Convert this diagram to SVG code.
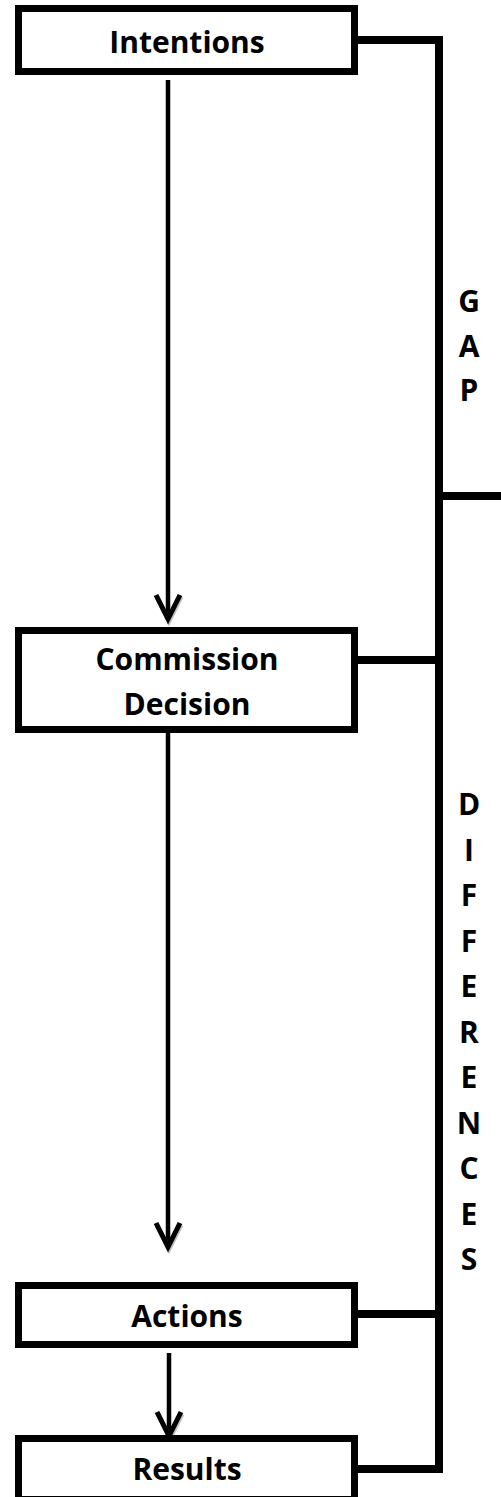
<svg xmlns="http://www.w3.org/2000/svg" width="501" height="1497" viewBox="0 0 501 1497">
<defs>
<style>
.box{fill:#fff;stroke:#000;stroke-width:7}
.lbl{font-family:"Open Sans","Liberation Sans",sans-serif;font-weight:bold;font-size:30px;fill:#000;text-anchor:middle}
.conn{fill:none;stroke:#000;stroke-width:8;stroke-linejoin:miter;stroke-linecap:butt}
.arr{fill:none;stroke:#000;stroke-width:4.5}
.head{fill:none;stroke:#000;stroke-width:5;stroke-linecap:butt;stroke-linejoin:miter}
.shadow{fill:none;stroke:#999;stroke-width:5;opacity:0.6}
</style>
</defs>
<rect width="501" height="1497" fill="#fff"/>
<g id="connectors">
<path class="conn" d="M358,40 H439 V1469 H358"/>
<path class="conn" d="M358,660 H439"/>
<path class="conn" d="M358,1314 H439"/>
<path class="conn" d="M439,496 H501"/>
<line class="arr" x1="168" y1="80" x2="168" y2="617"/>
<path class="shadow" d="M157,597 L169,621 L181,597"/>
<path class="head" d="M156,595 L168,619 L180,595"/>
<line class="arr" x1="168" y1="733" x2="168" y2="1245"/>
<path class="shadow" d="M157,1225 L169,1249 L181,1225"/>
<path class="head" d="M156,1223 L168,1247 L180,1223"/>
<line class="arr" x1="169" y1="1353" x2="169" y2="1434"/>
<path class="shadow" d="M158,1414 L170,1438 L182,1414"/>
<path class="head" d="M157,1412 L169,1436 L181,1412"/>
</g>
<g id="intentions">
<rect class="box" x="18.5" y="8.5" width="336" height="63"/>
<text class="lbl" x="187" y="53">Intentions</text>
</g>
<g id="commission">
<rect class="box" x="18.5" y="630.5" width="336" height="99"/>
<text class="lbl" x="187" y="670">Commission</text>
<text class="lbl" x="187" y="715">Decision</text>
</g>
<g id="actions">
<rect class="box" x="18.5" y="1285.5" width="336" height="59"/>
<text class="lbl" x="187" y="1327">Actions</text>
</g>
<g id="results">
<rect class="box" x="18.5" y="1438.5" width="336" height="61"/>
<text class="lbl" x="187" y="1480">Results</text>
</g>
<g id="gap">
<text class="lbl" x="469" y="312">G</text>
<text class="lbl" x="469" y="357">A</text>
<text class="lbl" x="469" y="401">P</text>
</g>
<g id="differences">
<text class="lbl" x="469" y="815">D</text>
<text class="lbl" x="469" y="860.5">I</text>
<text class="lbl" x="469" y="906">F</text>
<text class="lbl" x="469" y="951.5">F</text>
<text class="lbl" x="469" y="997">E</text>
<text class="lbl" x="469" y="1042.5">R</text>
<text class="lbl" x="469" y="1088">E</text>
<text class="lbl" x="469" y="1133.5">N</text>
<text class="lbl" x="469" y="1179">C</text>
<text class="lbl" x="469" y="1224.5">E</text>
<text class="lbl" x="469" y="1270">S</text>
</g>
</svg>
